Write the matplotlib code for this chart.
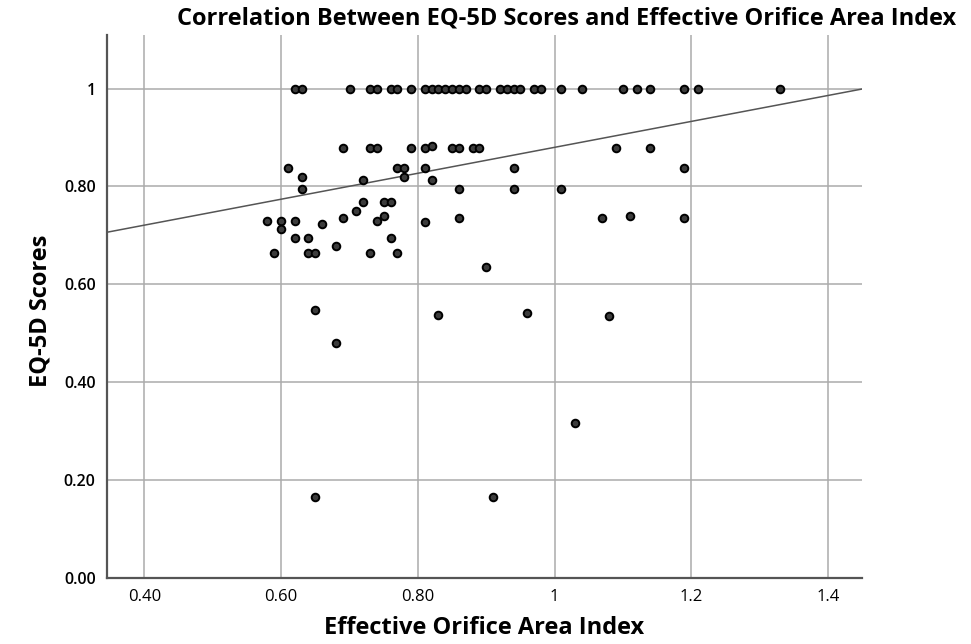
import numpy as np
import matplotlib
matplotlib.use('Agg')
import matplotlib.pyplot as plt

# effective orifice area index vs EQ-5D score
eoai = [0.62, 0.63, 0.70, 0.73, 0.74, 0.76, 0.77, 0.79, 0.81, 0.82, 0.83,
        0.84, 0.85, 0.86, 0.87, 0.89, 0.90, 0.92, 0.93, 0.94, 0.95, 0.97,
        0.98, 1.01, 1.04, 1.10, 1.12, 1.14, 1.19, 1.21, 1.33,
        0.69, 0.73, 0.74, 0.79, 0.81, 0.82, 0.85, 0.86, 0.88, 0.89, 1.09, 1.14,
        0.61, 0.77, 0.78, 0.81, 0.94, 1.19,
        0.63, 0.78, 0.72, 0.82,
        0.63, 0.86, 0.94, 1.01,
        0.72, 0.75, 0.76, 0.71,
        0.69, 0.75, 0.86, 1.07, 1.11, 1.19, 0.81,
        0.58, 0.60, 0.62, 0.74, 0.66, 0.60,
        0.62, 0.64, 0.76, 0.68,
        0.59, 0.64, 0.65, 0.73, 0.77,
        0.90, 0.65, 0.83, 0.96, 1.08, 0.68, 1.03, 0.65, 0.91]
eq5d = [1.0] * 31 + \
       [0.879, 0.879, 0.879, 0.879, 0.879, 0.883, 0.879, 0.879, 0.879, 0.879, 0.879, 0.879,
        0.837, 0.837, 0.837, 0.837, 0.837, 0.837,
        0.819, 0.819, 0.814, 0.814,
        0.795, 0.795, 0.795, 0.795,
        0.768, 0.768, 0.768, 0.750,
        0.736, 0.740, 0.736, 0.735, 0.739, 0.735, 0.727,
        0.729, 0.729, 0.729, 0.729, 0.723, 0.714,
        0.694, 0.694, 0.694, 0.678,
        0.664, 0.664, 0.664, 0.664, 0.664,
        0.635, 0.548, 0.537, 0.542, 0.536, 0.481, 0.316, 0.166, 0.166]

# fit line as printed (intercept, slope)
fit_intercept = 0.615
fit_slope = 0.265

xticks = [0.4, 0.6, 0.8, 1.0, 1.2, 1.4]
xtick_labels = ['0.40', '0.60', '0.80', '1', '1.2', '1.4']
yticks = [0.0, 0.2, 0.4, 0.6, 0.8, 1.0]
ytick_labels = ['0.00', '0.20', '0.40', '0.60', '0.80', '1']

fig = plt.figure(figsize=(9.71, 6.44), dpi=100)
ax = fig.add_axes([0.110, 0.1025, 0.778, 0.8435])

ax.set_xlim(0.345, 1.45)
ax.set_ylim(0.0, 1.11)

ax.set_xticks(xticks)
ax.set_xticklabels(xtick_labels, family=['Open Sans', 'DejaVu Sans'],
                   fontsize=12)
ax.set_yticks(yticks)
ax.set_yticklabels(ytick_labels, family=['Open Sans', 'DejaVu Sans'],
                   fontsize=11.5, fontweight='semibold')
ax.tick_params(length=0, pad=8)
ax.grid(True, color='#ababab', linewidth=1.1)
ax.set_axisbelow(True)

for s in ['top', 'right']:
    ax.spines[s].set_visible(False)
for s in ['left', 'bottom']:
    ax.spines[s].set_color('#555555')
    ax.spines[s].set_linewidth(1.6)

xl = np.array(ax.get_xlim())
ax.plot(xl, fit_intercept + fit_slope * xl, color='#555555', linewidth=1.1, zorder=2)

ax.scatter(eoai, eq5d, s=30, facecolor='#3c3c3c', edgecolor='black',
           linewidth=1.4, zorder=3)

fig.text(0.583, 0.972, 'Correlation Between EQ-5D Scores and Effective Orifice Area Index',
         ha='center', va='center', fontsize=17, fontweight='bold',
         family=['Open Sans', 'DejaVu Sans'])
fig.text(0.042, 0.518, 'EQ-5D Scores', rotation=90, ha='center', va='center',
         fontsize=17, fontweight='bold', family=['Open Sans', 'DejaVu Sans'])
fig.text(0.499, 0.025, 'Effective Orifice Area Index', ha='center', va='center',
         fontsize=17, fontweight='bold', family=['Open Sans', 'DejaVu Sans'])

fig.savefig('out.png', dpi=100)
